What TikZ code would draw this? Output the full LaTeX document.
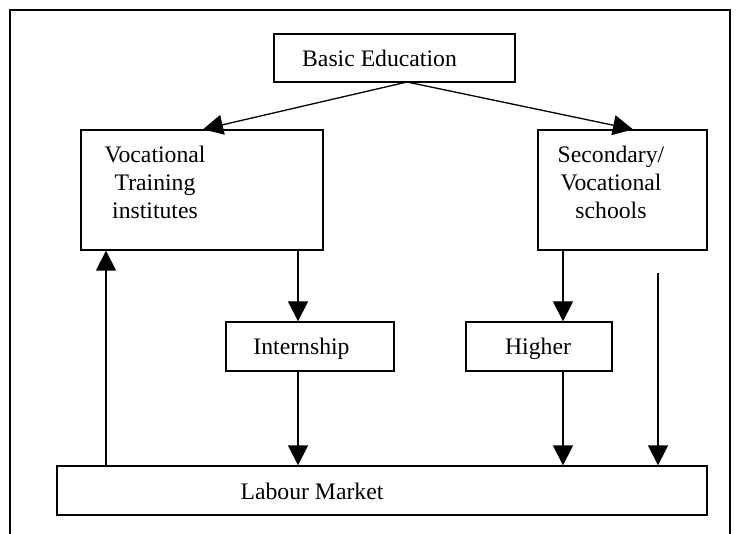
\documentclass[tikz,border=0pt]{standalone}
\usepackage{fontspec}
\setmainfont{Liberation Serif}
\usepackage{tikz}
\usetikzlibrary{arrows.meta}

\begin{document}
\begin{tikzpicture}[x=1pt, y=-1pt,
    box/.style={draw, line width=1.3pt, rectangle, inner sep=0pt},
    txt/.style={inner sep=0pt, font=\fontsize{23.7}{28}\selectfont, align=center},
    arr/.style={line width=1.3pt, -{Triangle[length=20pt, width=20pt]}}]
                \useasboundingbox (0, 0) rectangle (739, 534);
                \draw [line width=2pt] (10, 534) -- (10, 10) -- (730, 10) -- (730, 534);
                % boxes
                \node [box, minimum width=241, minimum height=48] (basic) at (394.5, 58) {};
                \node [txt, anchor=base] (basictxt) at (379.5, 67) {Basic Education};
                \node [box, minimum width=242, minimum height=120] (vti) at (202, 190) {};
                \node [txt, anchor=north] (vtitxt) at (155, 146) {Vocational\\Training\\institutes};
                \node [box, minimum width=169, minimum height=120] (svs) at (622.5, 190) {};
                \node [txt, anchor=north] (svstxt) at (611, 146) {Secondary/\\Vocational\\schools};
                \node [box, minimum width=168, minimum height=49] (intern) at (310, 346.5) {};
                \node [txt, anchor=base] (interntxt) at (301.5, 355) {Internship};
                \node [box, minimum width=146, minimum height=49] (higher) at (539, 346.5) {};
                \node [txt, anchor=base] (highertxt) at (538, 355) {Higher};
                \node [box, minimum width=650, minimum height=49] (labour) at (382, 490.5) {};
                \node [txt, anchor=base] (labourtxt) at (312, 499) {Labour Market};
                % connectors
                \coordinate (split) at (407, 82);
                \coordinate (colA) at (106, 0);
                \coordinate (colB) at (298, 0);
                \coordinate (colC) at (563, 0);
                \coordinate (direct) at (658, 273);
                \draw [arr] (split) -- ([xshift=1pt]vti.north);
                \draw [arr] (split) -- ([xshift=10.5pt]svs.north);
                \draw [arr] (vti.south -| colB) -- (intern.north -| colB);
                \draw [arr] (intern.south -| colB) -- (labour.north -| colB);
                \draw [arr] (svs.south -| colC) -- (higher.north -| colC);
                \draw [arr] (higher.south -| colC) -- (labour.north -| colC);
                \draw [arr] (direct) -- (labour.north -| direct);
                \draw [arr] (labour.north -| colA) -- (vti.south -| colA);
            \end{tikzpicture}
\end{document}
